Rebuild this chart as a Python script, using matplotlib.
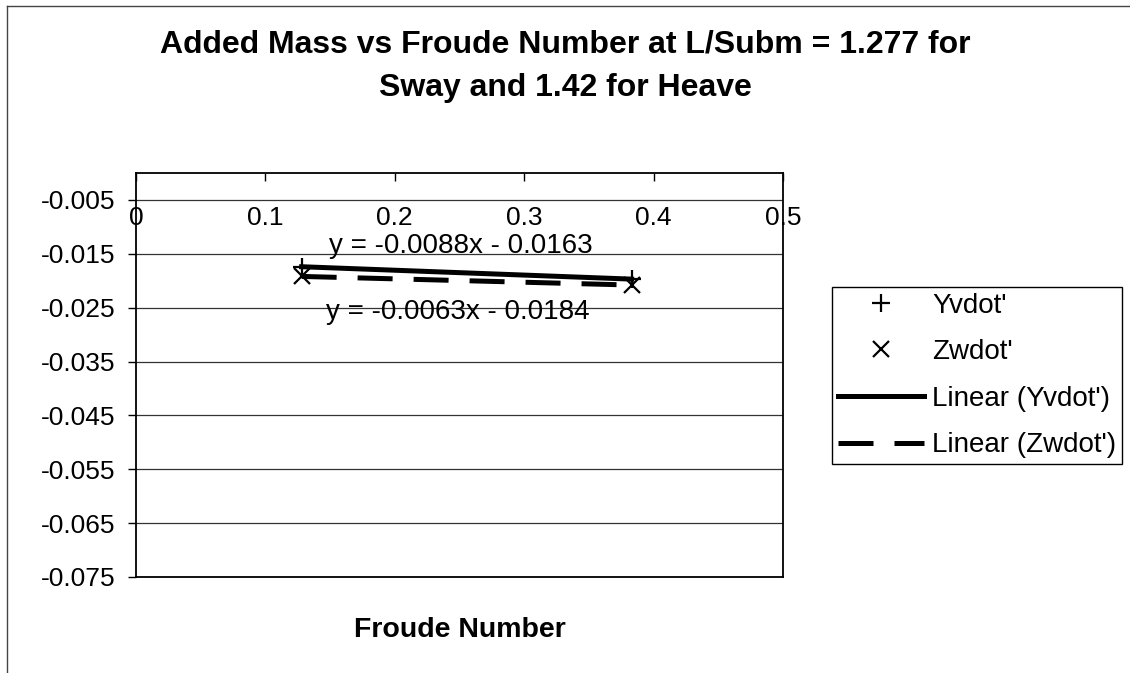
import matplotlib
matplotlib.use("Agg")
import matplotlib.pyplot as plt
from matplotlib.lines import Line2D
import numpy as np

plt.rcParams['font.family'] = ['Liberation Sans', 'DejaVu Sans']

# data
froude = [0.128, 0.383]
yvdot = [-0.0174, -0.0197]
zwdot = [-0.0192, -0.0208]
eq_y = "y = -0.0088x - 0.0163"
eq_z = "y = -0.0063x - 0.0184"
xticks = [0, 0.1, 0.2, 0.3, 0.4, 0.5]
yticks = [-0.075, -0.065, -0.055, -0.045, -0.035, -0.025, -0.015, -0.005]

fig = plt.figure(figsize=(11.3, 6.73), dpi=100)
W, H = 1130, 673
ax = fig.add_axes([136 / W, 1 - 577 / H, 647 / W, 404 / H])

# linear trendlines (2 points -> exact)
cy = np.polyfit(froude, yvdot, 1)
cz = np.polyfit(froude, zwdot, 1)
xs = np.array([min(froude), max(froude)])

ax.plot(froude, yvdot, '+', color='black', ms=13, mew=1.6, label="Yvdot'", zorder=4)
ax.plot(froude, zwdot, 'x', color='black', ms=11, mew=1.6, label="Zwdot'", zorder=4)
ax.plot(xs, np.polyval(cy, xs), '-', color='black', lw=3.6, label="Linear (Yvdot')", zorder=3)
ax.plot(xs, np.polyval(cz, xs), color='black', lw=3.6, dashes=(7, 4.2),
        label="Linear (Zwdot')", zorder=3)

ax.text(0.2512, -0.01355, eq_y, fontsize=20, ha='center', va='center')
ax.text(0.2488, -0.0258, eq_z, fontsize=20, ha='center', va='center')

ax.set_xlim(0, 0.5)
ax.set_ylim(-0.075, 0)
ax.set_xticks(xticks)
ax.set_xticklabels(["0", "0.1", "0.2", "0.3", "0.4", "0.5"])
ax.set_yticks(yticks)
ax.set_yticklabels(["%.3f" % v for v in yticks])
ax.xaxis.tick_top()
ax.tick_params(axis='x', direction='in', length=6, width=1, pad=-41, labelsize=19)
ax.tick_params(axis='y', direction='out', length=6, width=1, pad=9, labelsize=19)
ax.grid(axis='y', color='#333333', lw=0.9)
ax.set_axisbelow(True)
for s in ax.spines.values():
    s.set_linewidth(1.3)
    s.set_color('black')

ax.set_xlabel("Froude Number", fontsize=20.5, fontweight='bold')
ax.xaxis.set_label_position('bottom')
ax.xaxis.labelpad = 29

leg = ax.legend(loc='center left', bbox_to_anchor=(832 / W, 1 - 375.5 / H),
                bbox_transform=fig.transFigure, fontsize=20, frameon=True,
                fancybox=False, edgecolor='black', framealpha=1, handlelength=3.1,
                handletextpad=0.3, borderpad=0.2, labelspacing=0.74, numpoints=1,
                borderaxespad=0)
leg.get_frame().set_linewidth(1.0)

fig.text(0.5, 1 - 66 / H, "Added Mass vs Froude Number at L/Subm = 1.277 for\nSway and 1.42 for Heave",
         ha='center', va='center', fontsize=23, fontweight='bold', linespacing=1.6)

# chart border
fig.add_artist(Line2D([7 / W, 7 / W], [0, 1 - 6 / H], transform=fig.transFigure, color='#444444', lw=1))
fig.add_artist(Line2D([7 / W, 1], [1 - 6 / H, 1 - 6 / H], transform=fig.transFigure, color='#444444', lw=1))

fig.savefig("out.png", dpi=100)
